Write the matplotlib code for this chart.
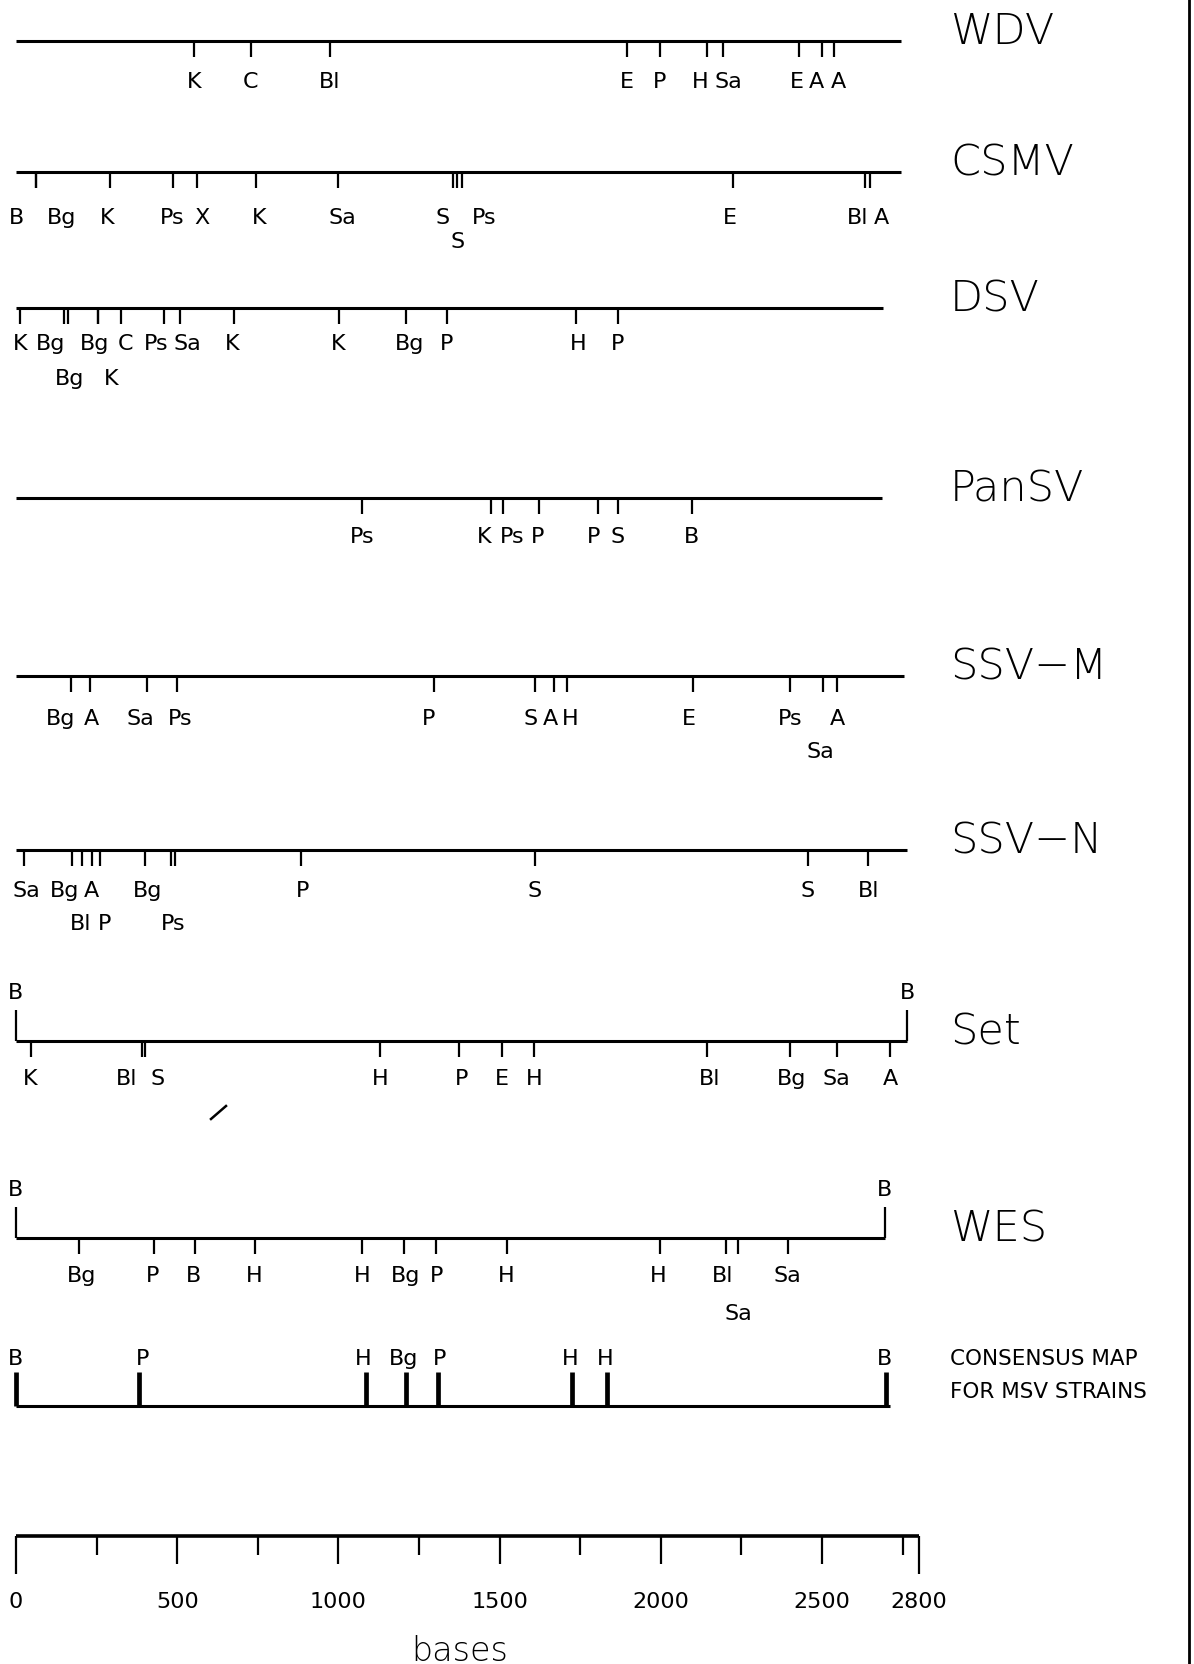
import numpy as np
import matplotlib
matplotlib.use('Agg')
import matplotlib.pyplot as plt
from matplotlib.lines import Line2D

# restriction sites, positions in bases
wdv_enz = ['K', 'C', 'Bl', 'E', 'P', 'H', 'Sa', 'E', 'A', 'A']
wdv_pos = [552, 728, 974, 1895, 1996, 2143, 2193, 2429, 2499, 2536]
wdv_len = 2745

csmv_enz = ['B', 'Bg', 'K', 'Ps', 'X', 'K', 'Sa', 'S', 'S', 'Ps', 'E', 'Bl', 'A']
csmv_pos = [63, 63, 292, 487, 561, 744, 999, 1354, 1369, 1383, 2225, 2632, 2648]
csmv_len = 2745

dsv_enz = ['K', 'Bg', 'Bg', 'Bg', 'K', 'C', 'Ps', 'Sa', 'K', 'K', 'Bg', 'P', 'H', 'P']
dsv_pos = [12, 150, 162, 253, 253, 326, 458, 508, 677, 1002, 1209, 1336, 1737, 1867]
dsv_len = 2690

pansv_enz = ['Ps', 'K', 'Ps', 'P', 'P', 'S', 'B']
pansv_pos = [1074, 1473, 1512, 1622, 1805, 1867, 2096]
pansv_len = 2686

ssvm_enz = ['Bg', 'A', 'Sa', 'Ps', 'P', 'S', 'A', 'H', 'E', 'Ps', 'Sa', 'A']
ssvm_pos = [172, 230, 406, 499, 1298, 1610, 1668, 1710, 2101, 2402, 2502, 2547]
ssvm_len = 2754

ssvn_enz = ['Sa', 'Bg', 'Bl', 'A', 'P', 'Bg', 'Ps', 'Ps', 'P', 'S', 'S', 'Bl']
ssvn_pos = [24, 173, 206, 235, 261, 401, 481, 494, 885, 1609, 2456, 2644]
ssvn_len = 2764

set_enz = ['K', 'Bl', 'S', 'H', 'P', 'E', 'H', 'Bl', 'Bg', 'Sa', 'A']
set_pos = [45, 390, 401, 1129, 1375, 1507, 1606, 2144, 2402, 2545, 2711]
set_len = 2764

wes_enz = ['Bg', 'P', 'B', 'H', 'H', 'Bg', 'P', 'H', 'H', 'Bl', 'Sa', 'Sa']
wes_pos = [196, 429, 555, 741, 1073, 1202, 1304, 1523, 1998, 2201, 2240, 2393]
wes_len = 2694

cons_enz = ['B', 'P', 'H', 'Bg', 'P', 'H', 'H', 'B']
cons_pos = [0, 380, 1086, 1211, 1310, 1725, 1832, 2700]
cons_len = 2711

scale_major = [0, 500, 1000, 1500, 2000, 2500, 2800]
scale_minor = [250, 750, 1250, 1750, 2250, 2750]

# label layout: x nudge in pixels, label line (0, 1, or -1 = none)
wdv_dx = [0, 0, 0, 0, 0, -7, 5, -2, -5, 5]
wdv_row = [0] * 10
csmv_dx = [-20, 25, -3, -1, 5, 3, 4, -10, 0, 22, -3, -7, 12]
csmv_row = [0, 0, 0, 0, 0, 0, 0, 0, 1, 0, 0, 0, 0]
dsv_dx = [0, -14, 1, -3, 14, 4, -7, 8, -2, -1, 4, 0, 2, 0]
dsv_row = [0, 0, 1, 0, 1, 0, 0, 0, 0, 0, 0, 0, 0, 0]
pansv_dx = [0, -7, 9, -1, -4, 0, 0]
pansv_row = [0] * 7
ssvm_dx = [-11, 1, -7, 3, -6, -5, -3, 3, -4, 0, -2, 0]
ssvm_row = [0, 0, 0, 0, 0, 0, 0, 0, 0, 0, 1, 0]
ssvn_dx = [3, -7, -2, 0, 4, 2, 2, 0, 1, 0, 0, 0]
ssvn_row = [0, 0, 1, 0, 1, 0, 1, -1, 0, 0, 0, 0]
set_dx = [0, -15, 12, 0, 2, 0, 0, 2, 1, 0, 0]
set_row = [0] * 11
wes_dx = [2, -2, -1, -1, 0, 2, 0, -1, -2, -3, 0, 0]
wes_row = [0, 0, 0, 0, 0, 0, 0, 0, 0, 0, 1, 0]
cons_dx = [0, 4, -3, -3, 1, -2, -1, -2]

W, H = 1194, 1665
X0, XS = 16, 0.3224   # pixel of base 0, pixels per base

fig = plt.figure(figsize=(W / 100, H / 100), dpi=100)
ax = fig.add_axes([0, 0, 1, 1])
ax.set_xlim(-X0 / XS, (W - X0) / XS)
ax.set_ylim(H, 0)
ax.axis('off')

LW = 2.2
TLW = 1.6
FS = 16
FBIG = 31


def label(x, yc, s, size=FS, ha='center'):
    # yc = vertical centre of capitals
    ax.text(x, yc + 0.36 * size * 100 / 72, s, fontsize=size, ha=ha,
            va='baseline', color='black', family='DejaVu Sans')


def draw_map(y, length, enz, pos, dx, rows, d0, d1, name=None):
    ax.plot([0, length], [y, y], color='black', lw=LW, solid_capstyle='butt')
    ax.vlines(pos, y, y + 16, color='black', lw=TLW)
    for e, p, d, r in zip(enz, pos, dx, rows):
        if r < 0:
            continue
        label(p + d / XS, y + (d0 if r == 0 else d1), e)
    if name:
        ax.text((950 - X0) / XS, y + 3, name, fontsize=FBIG, ha='left',
                va='baseline', color='black', fontweight=200)


draw_map(41.5, wdv_len, wdv_enz, wdv_pos, wdv_dx, wdv_row, 38, 68, 'WDV')
draw_map(172.5, csmv_len, csmv_enz, csmv_pos, csmv_dx, csmv_row, 44, 67, 'CSMV')
draw_map(309, dsv_len, dsv_enz, dsv_pos, dsv_dx, dsv_row, 33, 68, 'DSV')
draw_map(499, pansv_len, pansv_enz, pansv_pos, pansv_dx, pansv_row, 36, 68, 'PanSV')
draw_map(676.5, ssvm_len, ssvm_enz, ssvm_pos, ssvm_dx, ssvm_row, 41, 74, 'SSV\u2212M')
draw_map(850.5, ssvn_len, ssvn_enz, ssvn_pos, ssvn_dx, ssvn_row, 39, 72, 'SSV\u2212N')
draw_map(1041.5, set_len, set_enz, set_pos, set_dx, set_row, 36, 68, 'Set')
draw_map(1238.5, wes_len, wes_enz, wes_pos, wes_dx, wes_row, 36, 74, 'WES')

# BamHI ends of the cloned Set and WES genomes
for y, length in [(1041.5, set_len), (1238.5, wes_len)]:
    ax.vlines([0, length], y - 31, y, color='black', lw=TLW)
    label(0, y - 50, 'B')
    label(length, y - 50, 'B')

# consensus map
yc = 1407
ax.plot([0, cons_len], [yc, yc], color='black', lw=LW, solid_capstyle='butt')
ax.vlines(cons_pos, yc - 34, yc, color='black', lw=3.4)
for e, p, d in zip(cons_enz, cons_pos, cons_dx):
    label(p + d / XS, yc - 50, e)
label((950 - X0) / XS, 1357, 'CONSENSUS MAP', size=15.5, ha='left')
label((950 - X0) / XS, 1390, 'FOR MSV STRAINS', size=15.5, ha='left')

# scale bar
ys = 1537.5
ax.plot([0, 2800], [ys, ys], color='black', lw=2.6, solid_capstyle='butt')
for v in scale_major:
    tl = 38 if v in (0, 2800) else 28
    ax.vlines(v, ys, ys + tl, color='black', lw=TLW)
    label(v, 1600, str(v))
ax.vlines(scale_minor, ys, ys + 19, color='black', lw=TLW)
ax.text((460 - X0) / XS, 1661, 'bases', fontsize=24, ha='center', va='baseline',
        color='black', fontweight=200)

# stray pen mark and right frame line
ax.plot([(211 - X0) / XS, (226 - X0) / XS], [1120, 1107], color='black', lw=1.8)
fig.add_artist(Line2D([1189 / W, 1189 / W], [0, 1], transform=fig.transFigure,
                      color='black', lw=2.0))

fig.savefig('out.png', dpi=100)
plt.close(fig)
